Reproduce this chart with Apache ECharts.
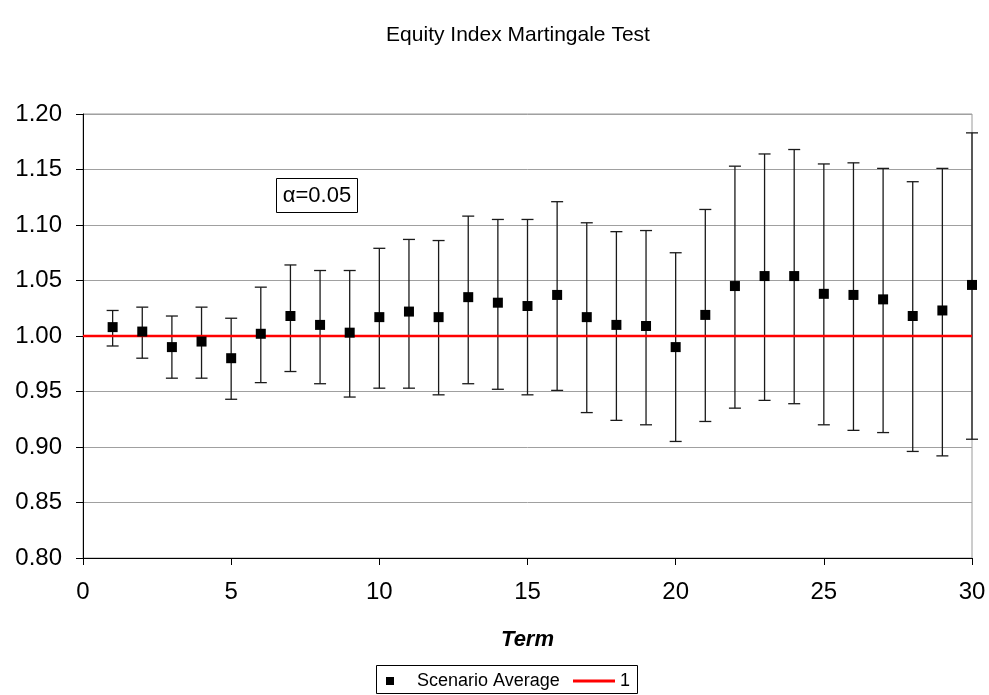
<!DOCTYPE html>
<html>
<head>
<meta charset="utf-8">
<script src="https://cdn.jsdelivr.net/npm/echarts@6/dist/echarts.min.js"></script>
<style>
html,body{margin:0;padding:0;background:#fff;}
#chart{width:989px;height:695px;}
</style>
</head>
<body>
<div id="chart"></div>
<script>
var titleText = 'Equity Index Martingale Test';
var xAxisTitle = 'Term';
var annotationText = 'α=0.05';
var seriesAvgName = 'Scenario Average';
var seriesRefName = '1';

var terms = [1,2,3,4,5,6,7,8,9,10,11,12,13,14,15,16,17,18,19,20,21,22,23,24,25,26,27,28,29,30];
var avg = [1.008,1.004,0.990,0.995,0.980,1.002,1.018,1.010,1.003,1.017,1.022,1.017,1.035,1.030,1.027,1.037,1.017,1.010,1.009,0.990,1.019,1.045,1.054,1.054,1.038,1.037,1.033,1.018,1.023,1.046];
var upper = [1.023,1.026,1.018,1.026,1.016,1.044,1.064,1.059,1.059,1.079,1.087,1.086,1.108,1.105,1.105,1.121,1.102,1.094,1.095,1.075,1.114,1.153,1.164,1.168,1.155,1.156,1.151,1.139,1.151,1.183];
var lower = [0.991,0.980,0.962,0.962,0.943,0.958,0.968,0.957,0.945,0.953,0.953,0.947,0.957,0.952,0.947,0.951,0.931,0.924,0.920,0.905,0.923,0.935,0.942,0.939,0.920,0.915,0.913,0.896,0.892,0.907];
var refX = [0, 30];
var refY = [1, 1];

var FONT = '"Liberation Sans", Arial, sans-serif';

var scatterData = terms.map(function(t,i){ return [t, avg[i]]; });
var errData = terms.map(function(t,i){ return [t, lower[i], upper[i]]; });
var refData = refX.map(function(x,i){ return [x, refY[i]]; });

var chart = echarts.init(document.getElementById('chart'), null, {renderer:'canvas'});
chart.setOption({
  animation: false,
  backgroundColor: '#ffffff',
  grid: {left: 83, right: 17, top: 114, bottom: 137, show: true, borderColor: '#9a9a9a', borderWidth: 1, containLabel: false},
  xAxis: {
    type: 'value', min: 0, max: 30, interval: 5,
    name: xAxisTitle, nameLocation: 'middle', nameGap: 71,
    nameTextStyle: {fontFamily: FONT, fontSize: 22, fontWeight: 'bold', fontStyle: 'italic', color: '#000'},
    axisLine: {show: true, onZero: false, lineStyle: {color: '#000', width: 1}},
    axisTick: {show: true, inside: false, length: 7, lineStyle: {color: '#000', width: 1}},
    axisLabel: {fontFamily: FONT, fontSize: 24, color: '#000', margin: 22},
    splitLine: {show: false}
  },
  yAxis: {
    type: 'value', min: 0.8, max: 1.2, interval: 0.05,
    axisLine: {show: true, onZero: false, lineStyle: {color: '#000', width: 1}},
    axisTick: {show: true, inside: false, length: 7, lineStyle: {color: '#000', width: 1}},
    axisLabel: {fontFamily: FONT, fontSize: 24, color: '#000', margin: 21, formatter: function(v){ return v.toFixed(2); }},
    splitLine: {show: true, lineStyle: {color: '#a0a0a0', width: 1}}
  },
  legend: [
    {data: [{name: seriesAvgName, icon: 'rect'}], left: 386, top: 672, padding: 0, itemWidth: 8, itemHeight: 8,
     textStyle: {fontFamily: FONT, fontSize: 18, color: '#000', padding: [0,0,0,18]}, selectedMode: false},
    {data: [{name: seriesRefName, icon: 'rect'}], left: 573, top: 672, padding: 0, itemWidth: 42, itemHeight: 3,
     textStyle: {fontFamily: FONT, fontSize: 18, color: '#000'}, selectedMode: false}
  ],
  graphic: [
    {type: 'text', x: 518, y: 35, style: {text: titleText, font: '21px ' + FONT, fill: '#000', textAlign: 'center', textVerticalAlign: 'middle'}},
    {type: 'rect', shape: {x: 276.5, y: 178.5, width: 81, height: 34}, style: {fill: '#fff', stroke: '#000', lineWidth: 1}, z: 10},
    {type: 'text', x: 317, y: 196, style: {text: annotationText, font: '22px ' + FONT, fill: '#000', textAlign: 'center', textVerticalAlign: 'middle'}, z: 11},
    {type: 'rect', shape: {x: 376.5, y: 665.5, width: 261, height: 28}, style: {fill: 'none', stroke: '#000', lineWidth: 1}, z: 10}
  ],
  series: [
    {
      type: 'custom', name: 'errors', data: errData, clip: false, z: 2,
      encode: {x: 0, y: [1, 2]},
      renderItem: function(params, api){
        var x = api.value(0);
        var lo = api.coord([x, api.value(1)]);
        var hi = api.coord([x, api.value(2)]);
        var hw = 6;
        var st = {stroke: '#1a1a1a', lineWidth: 1.3};
        return {type: 'group', children: [
          {type: 'line', shape: {x1: lo[0], y1: lo[1], x2: hi[0], y2: hi[1]}, style: st},
          {type: 'line', shape: {x1: hi[0]-hw, y1: hi[1], x2: hi[0]+hw, y2: hi[1]}, style: st},
          {type: 'line', shape: {x1: lo[0]-hw, y1: lo[1], x2: lo[0]+hw, y2: lo[1]}, style: st}
        ]};
      }
    },
    {
      type: 'line', name: seriesRefName, data: refData, symbol: 'none', showSymbol: false, z: 3,
      lineStyle: {color: '#ff0000', width: 2.5}, itemStyle: {color: '#ff0000'}
    },
    {
      type: 'scatter', name: seriesAvgName, data: scatterData, symbol: 'rect', symbolSize: 10, z: 4,
      itemStyle: {color: '#000', opacity: 1}
    }
  ]
});
</script>
</body>
</html>
